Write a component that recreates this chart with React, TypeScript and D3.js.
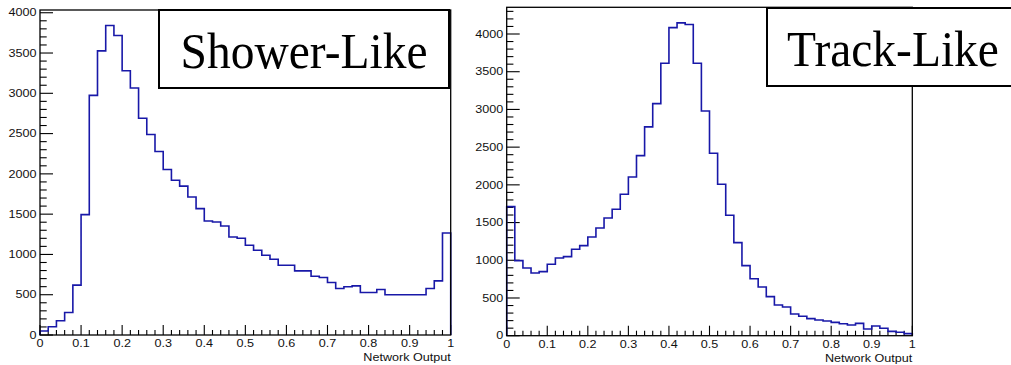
import React from "react";
import * as d3 from "d3";

// Classifier response histograms: 50 bins of width 0.02 on [0, 1]
const binEdges: number[] = d3.range(0, 51).map((i) => i / 50);

const showerCounts: number[] = [
  50, 103, 177, 280, 619, 1494, 2974, 3527, 3842, 3717,
  3280, 3065, 2690, 2488, 2277, 2054, 1920, 1848, 1712, 1568,
  1415, 1403, 1353, 1217, 1200, 1114, 1052, 990, 941, 866,
  866, 796, 796, 730, 714, 652, 578, 598, 610, 528,
  528, 565, 499, 499, 499, 499, 499, 578, 672, 1266,
];

const trackCounts: number[] = [
  1711, 995, 898, 832, 849, 947, 1031, 1048, 1146, 1194,
  1309, 1428, 1561, 1676, 1875, 2105, 2387, 2768, 3077, 3613,
  4085, 4147, 4125, 3613, 2980, 2419, 2008, 1597, 1234, 929,
  756, 646, 518, 407, 381, 288, 257, 226, 208, 195,
  177, 159, 142, 164, 89, 129, 98, 58, 45, 27,
];

const xMajorTicks: number[] = [0, 0.1, 0.2, 0.3, 0.4, 0.5, 0.6, 0.7, 0.8, 0.9, 1];
const xTickLabels: string[] = ["0", "0.1", "0.2", "0.3", "0.4", "0.5", "0.6", "0.7", "0.8", "0.9", "1"];
const yMajorTicks: number[] = [0, 500, 1000, 1500, 2000, 2500, 3000, 3500, 4000];
const xAxisTitle = "Network Output";
const panelTitles: string[] = ["Shower-Like", "Track-Like"];

const LABEL_FONT = "'Liberation Sans', Arial, Helvetica, sans-serif";
const TITLE_FONT = "'Liberation Serif', 'Times New Roman', serif";
const LINE_COLOR = "#1818a8";
const STRETCH = 1.2;

type Box = { x0: number; x1: number; y0: number; y1: number };

type HistProps = {
  counts: number[];
  frame: Box;
  yMax: number;
  title: string;
  titleBox: Box;
};

function Hist({ counts, frame, yMax, title, titleBox }: HistProps) {
  const x = d3.scaleLinear().domain([0, 1]).range([frame.x0, frame.x1]);
  const y = d3.scaleLinear().domain([0, yMax]).range([frame.y1, frame.y0]);

  // Step outline of the histogram
  const pts: [number, number][] = [[0, 0]];
  counts.forEach((c, i) => {
    pts.push([binEdges[i], c]);
    pts.push([binEdges[i + 1], c]);
  });
  pts.push([1, 0]);
  const line = d3
    .line<[number, number]>()
    .x((d) => x(d[0]))
    .y((d) => y(d[1]));

  const xMinor = d3.range(0, 51).map((i) => i / 50).filter((_, i) => i % 5 !== 0);
  const yMinor = d3.range(0, Math.floor(yMax / 100) + 1).map((i) => i * 100).filter((v) => v % 500 !== 0);

  const titleCx = (titleBox.x0 + titleBox.x1) / 2;
  const titleCy = (titleBox.y0 + titleBox.y1) / 2;

  return (
    <g>
      {/* x ticks */}
      {xMajorTicks.map((t) => (
        <line key={"xM" + t} x1={x(t)} x2={x(t)} y1={frame.y1} y2={frame.y1 - 10} stroke="#000" strokeWidth={1.1} />
      ))}
      {xMinor.map((t) => (
        <line key={"xm" + t} x1={x(t)} x2={x(t)} y1={frame.y1} y2={frame.y1 - 5} stroke="#000" strokeWidth={1.1} />
      ))}
      {/* y ticks */}
      {yMajorTicks.map((t) => (
        <line key={"yM" + t} x1={frame.x0} x2={frame.x0 + 13} y1={y(t)} y2={y(t)} stroke="#000" strokeWidth={1.1} />
      ))}
      {yMinor.map((t) => (
        <line key={"ym" + t} x1={frame.x0} x2={frame.x0 + 6.7} y1={y(t)} y2={y(t)} stroke="#000" strokeWidth={1.1} />
      ))}
      {/* histogram */}
      <path d={line(pts) ?? ""} fill="none" stroke={LINE_COLOR} strokeWidth={1.6} />
      {/* frame */}
      <rect
        x={frame.x0}
        y={frame.y0}
        width={frame.x1 - frame.x0}
        height={frame.y1 - frame.y0}
        fill="none"
        stroke="#000"
        strokeWidth={1.3}
      />
      {/* x tick labels */}
      {xMajorTicks.map((t, i) => (
        <text
          key={"xl" + t}
          transform={`translate(${x(t)},${frame.y1 + 12}) scale(${STRETCH},1)`}
          textAnchor="middle"
          fontFamily={LABEL_FONT}
          fontSize={10.5}
          fill="#111"
        >
          {xTickLabels[i]}
        </text>
      ))}
      {/* y tick labels */}
      {yMajorTicks.map((t) => (
        <text
          key={"yl" + t}
          transform={`translate(${frame.x0 - 3.5},${y(t) + 3.7}) scale(${STRETCH},1)`}
          textAnchor="end"
          fontFamily={LABEL_FONT}
          fontSize={10.5}
          fill="#111"
        >
          {t}
        </text>
      ))}
      {/* axis title */}
      <text
        transform={`translate(${frame.x1},${frame.y1 + 26}) scale(${STRETCH},1)`}
        textAnchor="end"
        fontFamily={LABEL_FONT}
        fontSize={10.5}
        fill="#111"
      >
        {xAxisTitle}
      </text>
      {/* panel label */}
      <rect
        x={titleBox.x0}
        y={titleBox.y0}
        width={titleBox.x1 - titleBox.x0}
        height={titleBox.y1 - titleBox.y0}
        fill="#fff"
        stroke="#000"
        strokeWidth={2}
      />
      <text
        transform={`translate(${titleCx},${titleCy + 19}) scale(0.95,1)`}
        textAnchor="middle"
        fontFamily={TITLE_FONT}
        fontSize={50}
        fill="#000"
      >
        {title}
      </text>
    </g>
  );
}

export default function App() {
  return (
    <svg
      width={1011}
      height={365}
      style={{ position: "absolute", left: 0, top: 0, background: "#fff" }}
    >
      <rect x={0} y={0} width={1011} height={365} fill="#fff" />
      <Hist
        counts={showerCounts}
        frame={{ x0: 40, x1: 450.7, y0: 10, y1: 335 }}
        yMax={4034}
        title={panelTitles[0]}
        titleBox={{ x0: 159, x1: 449, y0: 10, y1: 88 }}
      />
      <Hist
        counts={trackCounts}
        frame={{ x0: 506.7, x1: 912.3, y0: 7.3, y1: 335.7 }}
        yMax={4354}
        title={panelTitles[1]}
        titleBox={{ x0: 767, x1: 1019, y0: 8, y1: 86 }}
      />
    </svg>
  );
}
